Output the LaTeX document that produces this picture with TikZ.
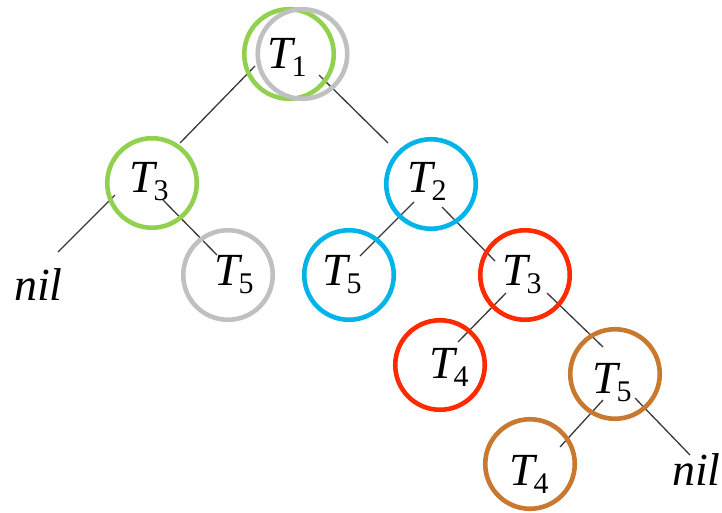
\documentclass[tikz,border=0pt]{standalone}
\usepackage{fontspec}
\setmainfont{Liberation Serif}
\newcommand{\Tsub}[1]{\textit{T}\kern-4pt\raisebox{-8pt}{\fontsize{30}{30}\selectfont #1}}
\definecolor{cgreen}{HTML}{92D050}
\definecolor{cgray}{HTML}{BEC0C2}
\definecolor{ccyan}{HTML}{00B4E8}
\definecolor{cred}{HTML}{FF2A00}
\definecolor{cbrown}{HTML}{C8782F}
\begin{document}
\begin{tikzpicture}[x=1pt,y=-1pt,
  lbl/.style={anchor=base west,inner sep=0pt,font=\fontsize{46}{50}\selectfont},
  ring/.style={circle,draw=#1,line width=4.6pt,minimum size=89.5pt,inner sep=0pt},
  edge/.style={draw=black!78,line width=1.3pt}]
\useasboundingbox (0,0) rectangle (722,512);
% text nodes
\node[lbl] (t1)  at (267,68)  {\Tsub{1}};
\node[lbl] (t3a) at (129,192) {\Tsub{3}};
\node[lbl] (t2)  at (407,192) {\Tsub{2}};
\node[lbl] (nilA) at (14,300) {\textit{nil}};
\node[lbl] (t5g) at (214,285) {\Tsub{5}};
\node[lbl] (t5c) at (322,285) {\Tsub{5}};
\node[lbl] (t3r) at (502,285) {\Tsub{3}};
\node[lbl] (t4r) at (429,378) {\Tsub{4}};
\node[lbl] (t5b) at (592,393) {\Tsub{5}};
\node[lbl] (t4b) at (509,485) {\Tsub{4}};
\node[lbl] (nilB) at (672,485) {\textit{nil}};
% connectors
\path[edge] ([shift={(-12,-2)}]t1.base west) -- ([shift={(51,-49)}]t3a.base west);
\path[edge] ([shift={(52,7)}]t1.base west) -- ([shift={(-19,-49)}]t2.base west);
\path[edge] ([shift={(-14,3)}]t3a.base west) -- ([shift={(44,-48)}]nilA.base west);
\path[edge] ([shift={(34,8)}]t3a.base west) -- ([shift={(3,-30)}]t5g.base west);
\path[edge] ([shift={(7,10)}]t2.base west) -- ([shift={(38,-29)}]t5c.base west);
\path[edge] ([shift={(35,15)}]t2.base west) -- ([shift={(-7,-24)}]t3r.base west);
\path[edge] ([shift={(4,8)}]t3r.base west) -- ([shift={(29,-36)}]t4r.base west);
\path[edge] ([shift={(45,8)}]t3r.base west) -- ([shift={(11,-46)}]t5b.base west);
\path[edge] ([shift={(11,7)}]t5b.base west) -- ([shift={(51,-38)}]t4b.base west);
\path[edge] ([shift={(43,5)}]t5b.base west) -- ([shift={(18,-30)}]nilB.base west);
% rings
\node[ring=cgreen] (rg1) at (289,54) {};
\node[ring=cgray]  (rs1) at (302.5,54) {};
\node[ring=cgreen] (rg3) at (152,183) {};
\node[ring=cgray]  (rs5) at (228,275) {};
\node[ring=ccyan]  (rc2) at (431,184) {};
\node[ring=ccyan]  (rc5) at (349,275) {};
\node[ring=cred]   (rr3) at (525,275) {};
\node[ring=cred]   (rr4) at (440,365) {};
\node[ring=cbrown] (rb5) at (615,374) {};
\node[ring=cbrown] (rb4) at (530,464) {};
\end{tikzpicture}
\end{document}
